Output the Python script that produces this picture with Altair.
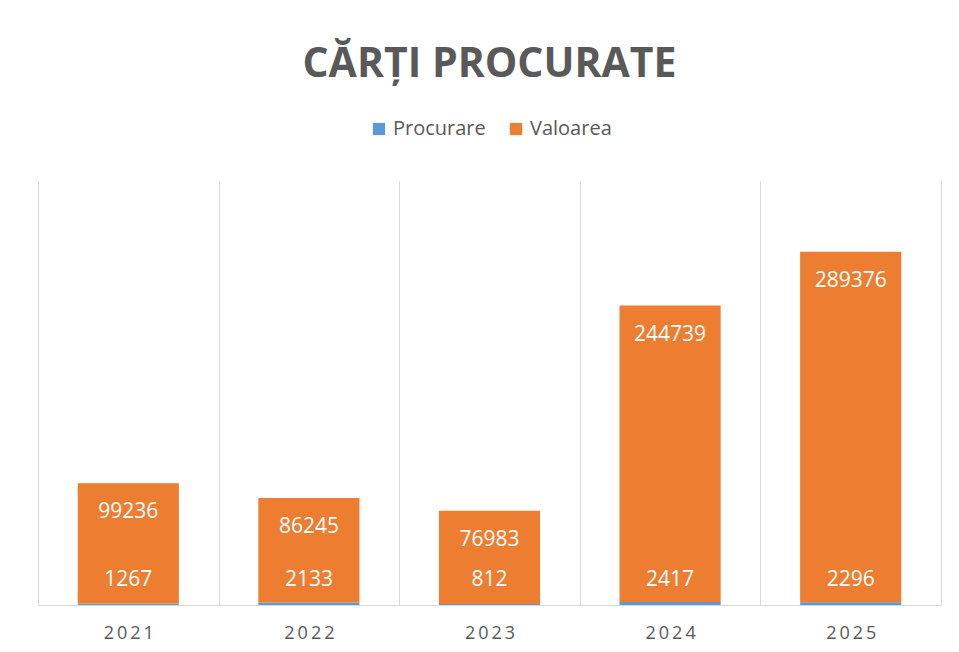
import altair as alt
import pandas as pd

years = ["2021", "2022", "2023", "2024", "2025"]
procurare = [1267, 2133, 812, 2417, 2296]
valoarea = [99236, 86245, 76983, 244739, 289376]
series_names = ["Procurare", "Valoarea"]
series_colors = ["#5B9BD5", "#ED7D31"]

rows = []
for y, p, v in zip(years, procurare, valoarea):
    rows.append({"year": y, "series": "Procurare", "value": p, "order": 0})
    rows.append({"year": y, "series": "Valoarea", "value": v, "order": 1})
long_df = pd.DataFrame(rows)

wide_df = pd.DataFrame({
    "year": years,
    "Procurare": procurare,
    "Valoarea": valoarea,
})
wide_df["total"] = wide_df["Procurare"] + wide_df["Valoarea"]
wide_df["zero"] = 0

FONT = "Open Sans"
GREY = "#595959"

x_enc = alt.X(
    "year:N",
    title=None,
    sort=years,
    scale=alt.Scale(paddingInner=0, paddingOuter=0),
    axis=alt.Axis(
        grid=True,
        gridColor="#d9d9d9",
        tickBand="extent",
        ticks=False,
        tickSize=0,
        domainColor="#d9d9d9",
        labelColor=GREY,
        labelFont=FONT,
        labelFontSize=18,
        labelPadding=19,
        labelAngle=0,
        labelExpr="join(split(datum.label, ''), '\u2009')",
    ),
)

y_scale = alt.Scale(domain=[0, 350000])

bars = alt.Chart(long_df).mark_bar(width=alt.RelativeBandSize(0.56)).encode(
    x=x_enc,
    y=alt.Y("value:Q", stack="zero", scale=y_scale, axis=None),
    color=alt.Color(
        "series:N",
        scale=alt.Scale(domain=series_names, range=series_colors),
        legend=alt.Legend(
            title=None,
            orient="none",
            direction="horizontal",
            legendX=331,
            legendY=-62,
            symbolType="square",
            symbolSize=150,
            symbolStrokeWidth=0,
            labelFont=FONT,
            labelFontSize=20,
            labelColor=GREY,
            columnPadding=20,
            labelOffset=4,
            padding=0,
        ),
    ),
    order=alt.Order("order:Q"),
)

val_text = alt.Chart(wide_df).mark_text(
    color="white", font=FONT, fontSize=21, dy=29, baseline="middle"
).encode(
    x=alt.X("year:N", sort=years),
    y=alt.Y("total:Q", scale=y_scale),
    text=alt.Text("Valoarea:Q", format="d"),
)

proc_text = alt.Chart(wide_df).mark_text(
    color="white", font=FONT, fontSize=21, dy=-25, baseline="middle"
).encode(
    x=alt.X("year:N", sort=years),
    y=alt.Y("zero:Q", scale=y_scale),
    text=alt.Text("Procurare:Q", format="d"),
)

chart = alt.layer(bars, val_text, proc_text).properties(
    width=903,
    height=424,
    autosize=alt.AutoSizeParams(type="none"),
    padding={"left": 30, "top": 173, "right": 10, "bottom": 39},
    title=alt.TitleParams(
        "CĂRȚI PROCURATE",
        font=FONT,
        fontSize=41,
        fontWeight="bold",
        color=GREY,
        anchor="middle",
        frame="group",
        offset=33,
    ),
).configure_view(stroke=None)

chart.save("out.html", embed_options={"renderer": "svg", "actions": False})
